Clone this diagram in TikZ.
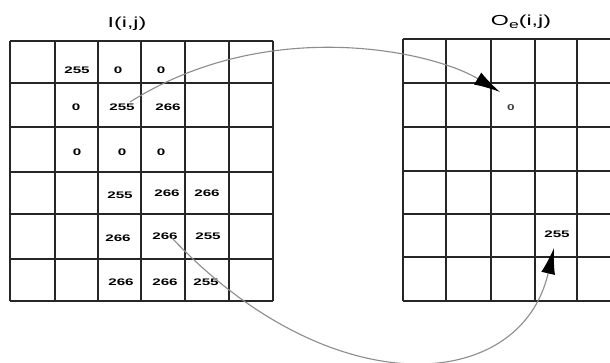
\documentclass[tikz,border=0pt]{standalone}
\usepackage{fontspec}
\setmainfont{Liberation Sans}
\newfontfamily\numfont[FakeStretch=1.6]{Liberation Sans}
\usetikzlibrary{arrows.meta}
\begin{document}
\begin{tikzpicture}[x=1pt,y=-1pt,
  gridline/.style={line width=1.4pt, draw=black!85},
  num/.style={font=\numfont\bfseries\fontsize{9.5}{9.5}\selectfont, inner sep=0pt},
  numlight/.style={font=\numfont\bfseries\fontsize{8.5}{8.5}\selectfont, text=black!75, inner sep=0pt},
  ttl/.style={font=\numfont\fontsize{14.5}{14.5}\selectfont, inner sep=0pt},
  conn/.style={draw=black!45, line width=1.1pt, -{Latex[length=26pt,width=14pt,color=black]}}]
\useasboundingbox (0,0) rectangle (610,363);
\fill[white] (0,0) rectangle (610,363);
% left grid
\foreach \x in {10,55,98,141,185,229,273} \draw[gridline] (\x,41) -- (\x,301);
\foreach \y in {41,83,127,172,214,259,301} \draw[gridline] (10,\y) -- (273,\y);
% right grid (cut by the picture's right edge)
\foreach \x in {403,446,491,535,577} \draw[gridline] (\x,39) -- (\x,301);
\foreach \y in {39,83,127,171,214,257,301} \draw[gridline] (403,\y) -- (610,\y);
% titles
\node[ttl] (tI) at (127,24) {I(i,j)};
\node[ttl] (tO) at (521,22) {O\raisebox{-3.5pt}{\fontsize{11}{11}\selectfont e}(i,j)};
% left grid values
\node[num] (a12) at (77,70) {255};
\node[num] (a13) at (118,70) {0};
\node[num] (a14) at (161,70) {0};
\node[num] (a22) at (76,107) {0};
\node[num] (a23) at (122,107) {255};
\node[num] (a24) at (168,107) {266};
\node[num] (a32) at (77,152) {0};
\node[num] (a33) at (122,152) {0};
\node[num] (a34) at (161,152) {0};
\node[num] (a43) at (120,195) {255};
\node[num] (a44) at (167,193) {266};
\node[num] (a45) at (207,193) {266};
\node[num] (a53) at (118,238) {266};
\node[num] (a54) at (165,236) {266};
\node[num] (a55) at (208,236) {255};
\node[num] (a63) at (121,282) {266};
\node[num] (a64) at (165,282) {266};
\node[num] (a65) at (206,282) {255};
% right grid values
\node[numlight] (b23) at (511,108) {0};
\node[num] (b54) at (557,234) {255};
% connectors
\coordinate (s1) at (130,102);
\coordinate (e1) at (500,92);
\coordinate (s2) at (172,238);
\coordinate (e2) at (554,248);
\draw[conn] (s1) .. controls (266,16) and (430,50) .. (e1);
\draw[conn] (s2) .. controls (330,405) and (520,395) .. (e2);
\end{tikzpicture}
\end{document}
